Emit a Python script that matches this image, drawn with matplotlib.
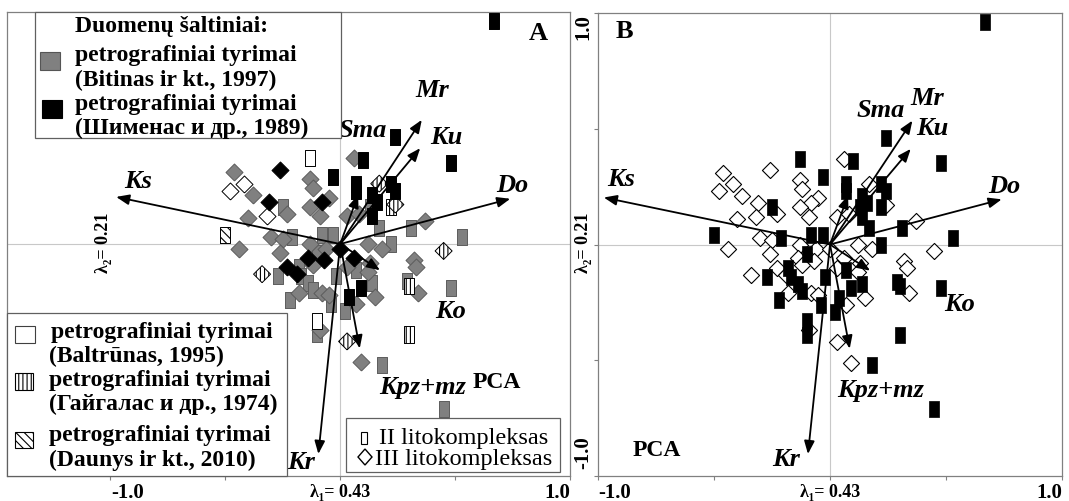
import matplotlib
matplotlib.use("Agg")
import matplotlib.pyplot as plt
from matplotlib.patches import Rectangle, Polygon

plt.rcParams['font.family'] = ['Liberation Serif', 'DejaVu Serif']
plt.rcParams['hatch.linewidth'] = 0.8

# PCA sample scores, lithocomplex II (rectangles)
# src: B = Bitinas 1997, S = Shimenas 1989, L = Baltrunas 1995, G = Gaigalas 1974, D = Daunys 2010
ii_x = [0.67, 0.24, -0.13, 0.10, 0.48, -0.03, 0.07, 0.07, 0.22, 0.24, 0.14, 0.16, 0.13, 0.22, 0.14,
        0.17, 0.31, -0.25, -0.21, -0.50, 0.53, -0.03, -0.08, 0.22, -0.10, -0.18, 0.07, -0.27, -0.17,
        -0.14, -0.02, 0.29, 0.30, 0.14, 0.09, 0.48, -0.12, -0.22, 0.04, -0.04, 0.02, -0.10, -0.10,
        0.30, 0.18, 0.45]
ii_y = [0.96, 0.46, 0.37, 0.36, 0.35, 0.29, 0.26, 0.23, 0.26, 0.23, 0.21, 0.18, 0.16, 0.16, 0.12,
        0.07, 0.07, 0.16, 0.03, 0.04, 0.03, 0.04, 0.04, 0.00, -0.04, -0.10, -0.11, -0.14, -0.14,
        -0.17, -0.14, -0.16, -0.18, -0.17, -0.19, -0.19, -0.20, -0.24, -0.23, -0.26, -0.29, -0.33,
        -0.39, -0.39, -0.52, -0.71]
ii_src = ['S', 'S', 'L', 'S', 'S', 'S', 'S', 'S', 'S', 'S', 'S', 'S', 'B', 'G', 'S',
          'B', 'B', 'B', 'B', 'D', 'B', 'B', 'B', 'B', 'B', 'B', 'B', 'B', 'B',
          'B', 'B', 'B', 'G', 'B', 'S', 'B', 'B', 'B', 'S', 'B', 'B', 'L', 'B',
          'G', 'B', 'B']

# lithocomplex III (diamonds)
iii_x = [-0.46, -0.26, -0.42, -0.48, -0.38, -0.13, -0.12, -0.31, -0.05, -0.08, -0.13, -0.23, -0.32,
         -0.40, -0.09, 0.03, 0.08, 0.06, 0.17, 0.24, 0.37, -0.44, -0.30, -0.25, -0.26, -0.13, -0.06,
         0.00, -0.07, -0.14, -0.12, -0.23, -0.34, -0.19, 0.12, 0.18, 0.06, 0.13, 0.03, 0.12, 0.45,
         0.32, 0.33, 0.34, 0.15, -0.18, -0.08, -0.05, 0.07, -0.09, 0.03, 0.09]
iii_y = [0.31, 0.32, 0.26, 0.23, 0.21, 0.28, 0.24, 0.18, 0.20, 0.18, 0.16, 0.13, 0.12,
         0.11, 0.12, 0.12, 0.13, 0.37, 0.26, 0.17, 0.10, -0.02, 0.03, 0.02, -0.04, 0.00, -0.02,
         -0.02, -0.07, -0.06, -0.09, -0.10, -0.13, -0.13, 0.00, -0.02, -0.06, -0.08, -0.10, -0.12, -0.03,
         -0.07, -0.10, -0.21, -0.23, -0.21, -0.21, -0.22, -0.26, -0.37, -0.42, -0.51]
iii_src = ['B', 'S', 'L', 'L', 'B', 'B', 'B', 'S', 'B', 'S', 'B', 'B', 'L',
           'B', 'B', 'B', 'B', 'B', 'G', 'G', 'B', 'B', 'B', 'B', 'B', 'B', 'B',
           'S', 'S', 'S', 'B', 'S', 'G', 'S', 'B', 'B', 'S', 'B', 'B', 'B', 'G',
           'B', 'B', 'B', 'B', 'B', 'B', 'B', 'B', 'B', 'G', 'B']

# variable arrows
var_names = ['Ks', 'Do', 'Mr', 'Ku', 'Sma', 'Ko', 'Kpz+mz', 'Kr']
var_x = [-0.975, 0.74, 0.355, 0.348, 0.078, 0.173, 0.085, -0.095]
var_y = [0.203, 0.195, 0.535, 0.413, 0.212, -0.113, -0.45, -0.905]

# label placement (data coords) per panel
lab_A = {'Ks': (-0.88, 0.27), 'Do': (0.75, 0.25), 'Mr': (0.40, 0.66), 'Ku': (0.46, 0.46),
         'Sma': (0.10, 0.49), 'Ko': (0.48, -0.29), 'Kpz+mz': (0.36, -0.62), 'Kr': (-0.17, -0.94)}
lab_B = {'Ks': (-0.90, 0.28), 'Do': (0.75, 0.25), 'Mr': (0.42, 0.63), 'Ku': (0.44, 0.50),
         'Sma': (0.22, 0.58), 'Ko': (0.56, -0.26), 'Kpz+mz': (0.22, -0.63), 'Kr': (-0.19, -0.93)}

W, H = 1069, 501
fig = plt.figure(figsize=(W / 100, H / 100), dpi=100)


def fx(x):
    return x / W


def fy(y):
    return 1 - y / H


axA = fig.add_axes([fx(7), fy(476), 563 / W, 464 / H])
axB = fig.add_axes([fx(598), fy(476), 464 / W, 463 / H])
axA.set_xlim(-1.45, 1.0)
axB.set_xlim(-1.0, 1.0)

rect_m = [(-0.3, -0.5), (0.3, -0.5), (0.3, 0.5), (-0.3, 0.5), (-0.3, -0.5)]
diam_m = [(0, -0.5), (0.5, 0), (0, 0.5), (-0.5, 0), (0, -0.5)]

styles = {
    'B': dict(facecolors='#808080', edgecolors='#5c5c5c', hatch=None),
    'L': dict(facecolors='white', edgecolors='black', hatch=None),
    'G': dict(facecolors='white', edgecolors='black', hatch='||||'),
    'D': dict(facecolors='white', edgecolors='black', hatch='\\\\\\\\'),
    'S': dict(facecolors='black', edgecolors='black', hatch=None),
}

for ax in (axA, axB):
    ax.set_ylim(-1.0, 1.0)
    ax.axhline(0, color='#c8c8c8', lw=0.8, zorder=0)
    ax.axvline(0, color='#c8c8c8', lw=0.8, zorder=0)
    for s in ax.spines.values():
        s.set_color('#808080')
        s.set_linewidth(0.9)
    ax.set_xticks([-1, -0.5, 0, 0.5, 1])
    ax.set_yticks([-1, -0.5, 0, 0.5, 1])
    ax.tick_params(direction='out', length=3, color='#808080', labelbottom=False, labelleft=False)

axA.tick_params(left=False)

# panel A: coloured by data source
for src in ['B', 'L', 'G', 'D', 'S']:
    st = styles[src]
    xs = [x for x, s in zip(ii_x, ii_src) if s == src]
    ys = [y for y, s in zip(ii_y, ii_src) if s == src]
    axA.scatter(xs, ys, marker=rect_m, s=135, linewidths=0.7, zorder=3, **st)
    xs = [x for x, s in zip(iii_x, iii_src) if s == src]
    ys = [y for y, s in zip(iii_y, iii_src) if s == src]
    axA.scatter(xs, ys, marker=diam_m, s=150, linewidths=0.7, zorder=3, **st)

# panel B: coloured by lithocomplex
axB.scatter(iii_x, iii_y, marker=diam_m, s=135, facecolors='white', edgecolors='black',
            linewidths=0.8, zorder=3)
axB.scatter(ii_x, ii_y, marker=rect_m, s=125, facecolors='black', edgecolors='black',
            linewidths=0.5, zorder=4)

for ax, labs in ((axA, lab_A), (axB, lab_B)):
    for name, vx, vy in zip(var_names, var_x, var_y):
        ax.annotate('', xy=(vx, vy), xytext=(0, 0),
                    arrowprops=dict(arrowstyle='-|>,head_length=0.6,head_width=0.24',
                                    color='black', lw=1.3, shrinkA=0, shrinkB=0,
                                    mutation_scale=13), zorder=5)
        lx, ly = labs[name]
        ax.text(lx, ly, name, fontsize=19, fontweight='bold', style='italic',
                ha='center', va='center', zorder=6)

# panel letters and PCA
fig.text(fx(538), fy(34), 'A', fontsize=19, fontweight='bold', ha='center', va='center')
fig.text(fx(624), fy(31), 'B', fontsize=19, fontweight='bold', ha='center', va='center')
fig.text(fx(497), fy(382), 'PCA', fontsize=17, fontweight='bold', ha='center', va='center')
fig.text(fx(657), fy(451), 'PCA', fontsize=17, fontweight='bold', ha='center', va='center')

# axis labels
for x0, x1, xz in ((111, 570, 340), (598, 1062, 830)):
    fig.text(fx(x0), fy(498), '-1.0', fontsize=15, fontweight='bold', ha='left', va='baseline')
    fig.text(fx(x1), fy(498), '1.0', fontsize=15, fontweight='bold', ha='right', va='baseline')
    fig.text(fx(xz), fy(497), 'λ\u2081= 0.43', fontsize=13, fontweight='bold', ha='center',
             va='baseline')
fig.text(fx(103), fy(243), 'λ\u2082= 0.21', fontsize=13, fontweight='bold', rotation=90,
         ha='center', va='center')
fig.text(fx(583), fy(243), 'λ\u2082= 0.21', fontsize=13, fontweight='bold', rotation=90,
         ha='center', va='center')
fig.text(fx(583), fy(14), '1.0', fontsize=15, fontweight='bold', rotation=90, ha='center', va='top')
fig.text(fx(583), fy(469), '-1.0', fontsize=15, fontweight='bold', rotation=90, ha='center',
         va='bottom')


# legends drawn in pixel space
def box(x0, y0, x1, y1):
    fig.patches.append(Rectangle((fx(x0), fy(y1)), fx(x1 - x0), (y1 - y0) / H,
                                 transform=fig.transFigure, facecolor='white',
                                 edgecolor='#606060', lw=0.9, zorder=10))


def swatch(x0, y0, x1, y1, fc, hatch=None, ec='black'):
    fig.patches.append(Rectangle((fx(x0), fy(y1)), fx(x1 - x0), (y1 - y0) / H,
                                 transform=fig.transFigure, facecolor=fc, edgecolor=ec,
                                 hatch=hatch, lw=0.8, zorder=11))


def line(x, y, s, size=17, weight='bold'):
    fig.text(fx(x), fy(y), s, fontsize=size, fontweight=weight, ha='left', va='baseline',
             zorder=12)


box(35, 12, 341, 138)
swatch(40, 52, 60, 70, '#808080', ec='#555555')
swatch(42, 100, 62, 118, 'black')
line(75, 32, 'Duomenų šaltiniai:')
line(75, 61, 'petrografiniai tyrimai')
line(75, 86, '(Bitinas ir kt., 1997)')
line(75, 110, 'petrografiniai tyrimai')
line(75, 134, '(Шименас и др., 1989)')

box(7, 313, 287, 476)
swatch(15, 326, 35, 343, 'white', ec='#404040')
swatch(15, 373, 33, 390, 'white', hatch='||||')
swatch(15, 432, 33, 448, 'white', hatch='\\\\\\\\')
line(51, 338, 'petrografiniai tyrimai')
line(49, 362, '(Baltrūnas, 1995)')
line(49, 386, 'petrografiniai tyrimai')
line(49, 410, '(Гайгалас и др., 1974)')
line(49, 441, 'petrografiniai tyrimai')
line(49, 466, '(Daunys ir kt., 2010)')

box(346, 418, 560, 472)
swatch(361, 432, 367, 444, 'white')
fig.patches.append(Polygon([(fx(365), fy(449)), (fx(372), fy(457)), (fx(365), fy(465)),
                            (fx(358), fy(457))], closed=True, transform=fig.transFigure,
                           facecolor='white', edgecolor='black', lw=1.0, zorder=11))
line(379, 444, 'II litokompleksas', size=17.5, weight='normal')
line(375, 465, 'III litokompleksas', size=17.5, weight='normal')

fig.savefig('out.png', dpi=100)
